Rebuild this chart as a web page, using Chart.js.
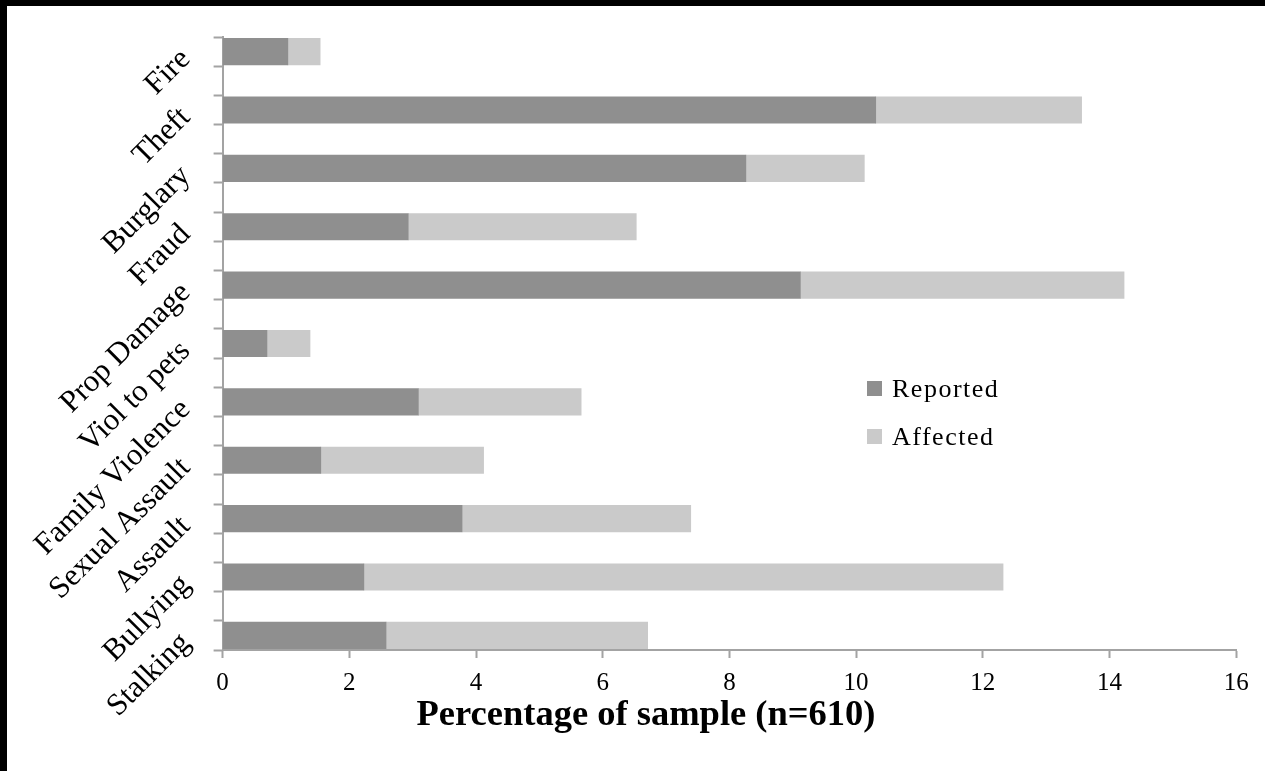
<!DOCTYPE html>
<html>
<head>
<meta charset="utf-8">
<title>Victimisation by offence type</title>
<script src="https://cdn.jsdelivr.net/npm/chart.js@4.4.1/dist/chart.umd.min.js"></script>
<style>
  html, body { margin: 0; padding: 0; background: #ffffff; overflow: hidden; }
  #wrap { position: relative; width: 1265px; height: 771px; }
  #chart { position: absolute; left: 0; top: 0; }
  .edge { position: absolute; background: #000000; z-index: 2; }
  #edgeTop { left: 0; top: 0; width: 1265px; height: 6px; }
  #edgeLeft { left: 0; top: 0; width: 7px; height: 771px; }
</style>
</head>
<body>
<div id="wrap">
  <canvas id="chart" width="1265" height="771"></canvas>
  <div class="edge" id="edgeTop"></div>
  <div class="edge" id="edgeLeft"></div>
</div>
<script>
// Offence categories, top to bottom
const categories = ['Fire', 'Theft', 'Burglary', 'Fraud', 'Prop Damage', 'Viol to pets',
  'Family Violence', 'Sexual Assault', 'Assault', 'Bullying', 'Stalking'];

// Percentage of sample who reported the offence
const reported = [1.03, 10.31, 8.26, 2.93, 9.12, 0.70, 3.09, 1.55, 3.78, 2.23, 2.58];

// Additional percentage affected but not reporting (stacked after "Reported")
const affected = [0.51, 3.25, 1.87, 3.60, 5.11, 0.68, 2.57, 2.57, 3.61, 10.09, 4.13];

// Value axis ticks
const xTicks = [0, 2, 4, 6, 8, 10, 12, 14, 16];

const seriesNames = ['Reported', 'Affected'];
const seriesColors = ['#8f8f8f', '#cacaca'];

const SERIF = "'Liberation Serif', 'Times New Roman', serif";
Chart.defaults.font.family = SERIF;
Chart.defaults.color = '#000000';

const AXIS_GREY = '#a3a3a3';

// Legend drawn inside the plot area
const innerLegend = {
  id: 'innerLegend',
  afterDraw(chart) {
    const ctx = chart.ctx;
    const x = 867, y0 = 381, rowGap = 48, box = 15;
    ctx.save();
    ctx.font = '26px ' + SERIF;
    if ('letterSpacing' in ctx) ctx.letterSpacing = '1.5px';
    ctx.textBaseline = 'alphabetic';
    ctx.textAlign = 'left';
    chart.data.datasets.forEach((ds, i) => {
      const y = y0 + i * rowGap;
      ctx.fillStyle = ds.backgroundColor;
      ctx.fillRect(x, y, box, box);
      ctx.fillStyle = '#000000';
      ctx.fillText(ds.label, x + 25, y + 16);
    });
    ctx.restore();
  }
};

// Value-axis title, placed under the tick labels
const axisTitle = {
  id: 'axisTitle',
  afterDraw(chart) {
    const ctx = chart.ctx;
    ctx.save();
    ctx.font = 'bold 36.5px ' + SERIF;
    ctx.fillStyle = '#000000';
    ctx.textAlign = 'center';
    ctx.textBaseline = 'middle';
    ctx.fillText('Percentage of sample (n=610)', 646, 716);
    ctx.restore();
  }
};

const isWhole = v => Math.abs(v - Math.round(v)) < 1e-6;

new Chart(document.getElementById('chart'), {
  type: 'bar',
  data: {
    datasets: [
      {
        label: seriesNames[0],
        data: reported.map((v, i) => ({ x: v, y: i })),
        backgroundColor: seriesColors[0],
        borderWidth: 0,
        barThickness: 26.5
      },
      {
        label: seriesNames[1],
        data: affected.map((v, i) => ({ x: v, y: i })),
        backgroundColor: seriesColors[1],
        borderWidth: 0,
        barThickness: 26.5
      }
    ]
  },
  options: {
    indexAxis: 'y',
    responsive: false,
    animation: false,
    events: [],
    layout: { padding: { top: 37, left: 0, right: 28.8, bottom: 0 } },
    plugins: { legend: { display: false }, tooltip: { enabled: false } },
    scales: {
      x: {
        type: 'linear',
        stacked: true,
        min: 0,
        max: 16,
        afterBuildTicks: s => { s.ticks = xTicks.map(v => ({ value: v })); },
        afterFit: s => { s.height = 121; s.paddingLeft = 0; s.paddingRight = 0; },
        grid: { drawOnChartArea: false, drawTicks: true, tickLength: 8, tickColor: AXIS_GREY, tickWidth: 2 },
        border: { display: true, color: AXIS_GREY, width: 2 },
        ticks: { font: { size: 25 }, color: '#000000', padding: 10, maxRotation: 0, autoSkip: false }
      },
      y: {
        type: 'linear',
        stacked: true,
        reverse: true,
        offset: false,
        min: -0.25,
        max: categories.length - 0.75,
        afterBuildTicks: s => {
          const t = [];
          categories.forEach((c, i) => {
            t.push({ value: i - 0.25 }, { value: i }, { value: i + 0.25 });
          });
          s.ticks = t;
        },
        afterFit: s => { s.width = 222.6; s.paddingTop = 0; s.paddingBottom = 0; },
        grid: {
          offset: false,
          drawOnChartArea: false,
          drawTicks: true,
          tickLength: 9,
          tickWidth: 2,
          tickColor: c => (c.tick && isWhole(c.tick.value)) ? 'rgba(0,0,0,0)' : AXIS_GREY
        },
        border: { display: true, color: AXIS_GREY, width: 2 },
        ticks: {
          autoSkip: false,
          minRotation: 45,
          maxRotation: 45,
          padding: 28,
          labelOffset: 3,
          font: { size: 31 },
          color: '#000000',
          callback: v => isWhole(v) ? categories[Math.round(v)] : ''
        }
      }
    }
  },
  plugins: [innerLegend, axisTitle]
});
</script>
</body>
</html>
